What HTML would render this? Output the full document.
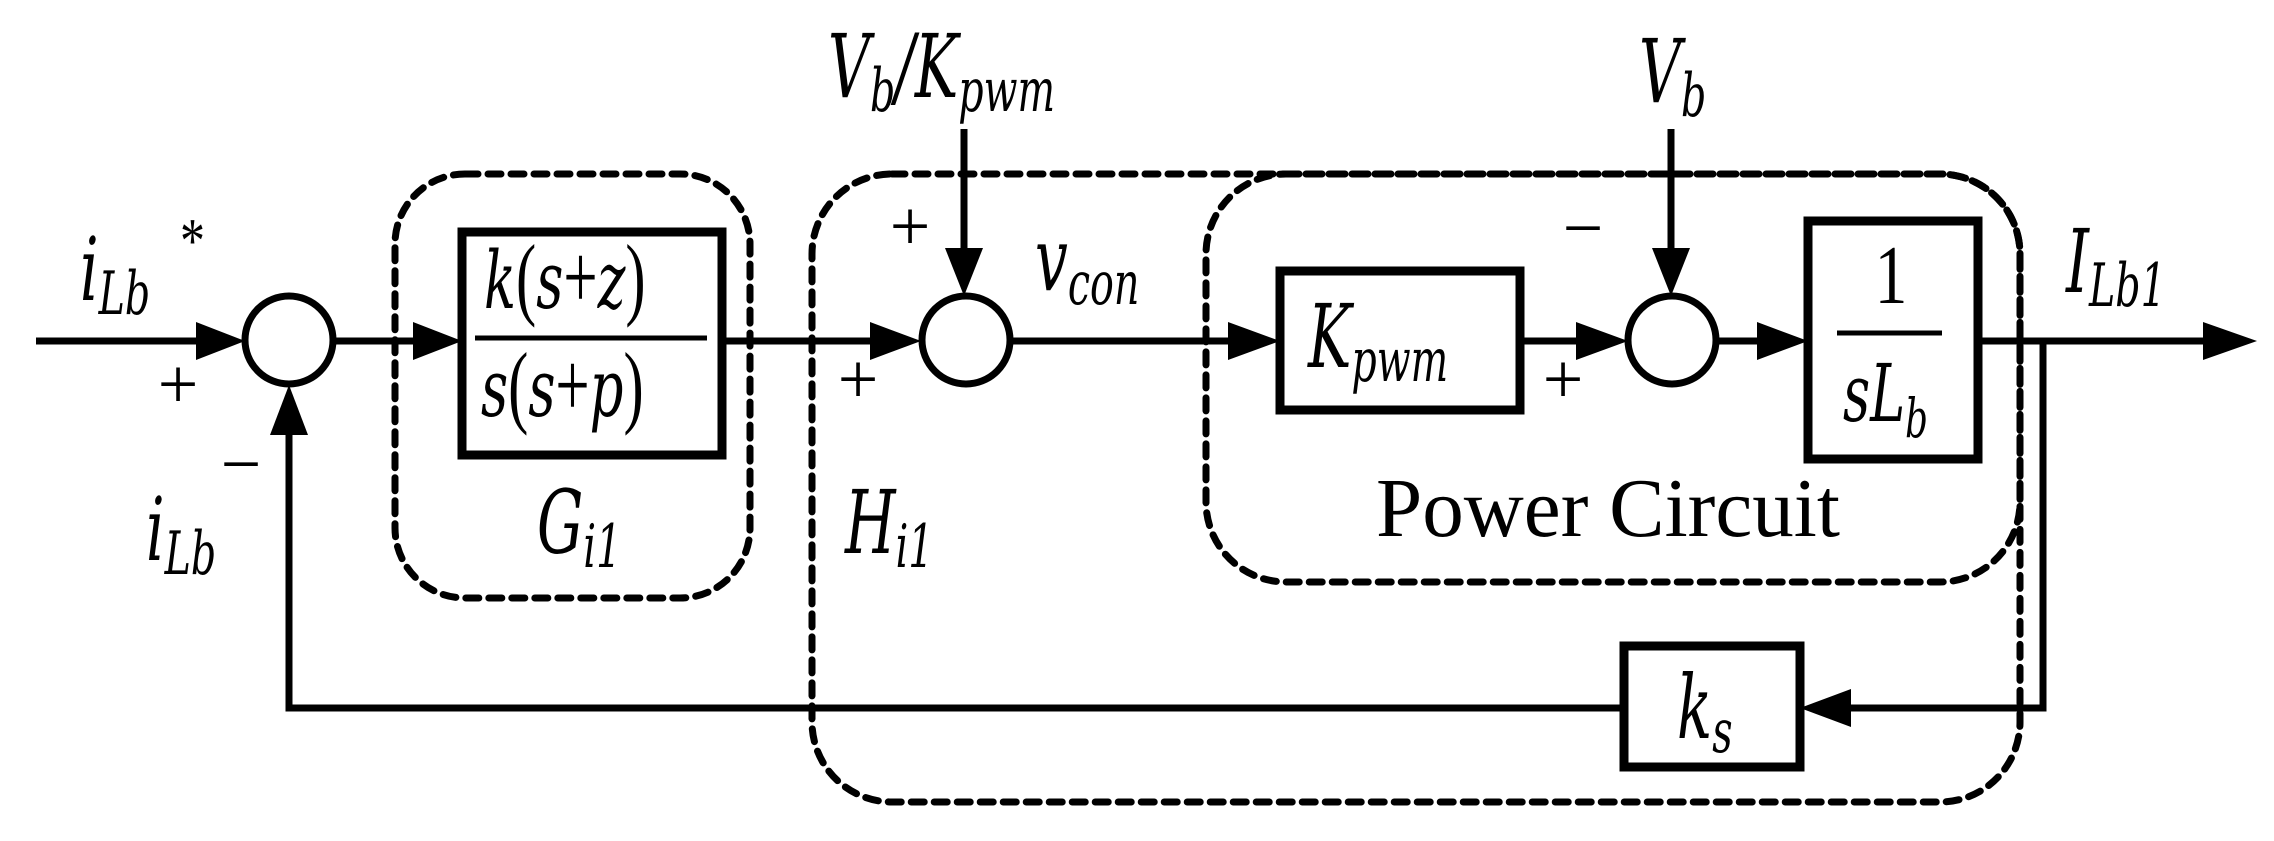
<!DOCTYPE html>
<html><head><meta charset="utf-8"><style>
html,body{margin:0;padding:0;background:#fff}
svg{display:block}
svg text{font-family:"Liberation Serif","Times New Roman",serif;fill:#000}
svg text .i, svg text.i{font-family:"DejaVu Serif","Liberation Serif",serif;font-style:italic}
</style></head><body>
<svg width="2274" height="841" viewBox="0 0 2274 841" xmlns="http://www.w3.org/2000/svg">
<g fill="none" stroke="#000" stroke-width="7" stroke-dasharray="13 10" stroke-linecap="round">
<rect x="395" y="174" width="355" height="424" rx="70" ry="70"/>
<rect x="812" y="174" width="1208" height="628" rx="80" ry="80"/>
<rect x="1206" y="174" width="814" height="408" rx="80" ry="80"/>
</g>
<g stroke="#000" stroke-width="7" fill="none">
<line x1="36" y1="341" x2="200" y2="341"/>
<circle cx="289" cy="340" r="44"/>
<line x1="334" y1="341" x2="420" y2="341"/>
<rect x="462" y="232" width="260" height="223" stroke-width="9"/>
<line x1="475" y1="338" x2="707" y2="338" stroke-width="5"/>
<line x1="722" y1="341" x2="875" y2="341"/>
<circle cx="966" cy="340" r="44"/>
<line x1="964" y1="129" x2="964" y2="255"/>
<line x1="1010" y1="341" x2="1235" y2="341"/>
<rect x="1280" y="271" width="240" height="139" stroke-width="9"/>
<line x1="1520" y1="341" x2="1580" y2="341"/>
<circle cx="1672" cy="340" r="44"/>
<line x1="1671" y1="129" x2="1671" y2="255"/>
<line x1="1717" y1="341" x2="1762" y2="341"/>
<rect x="1808" y="221" width="170" height="238" stroke-width="9"/>
<line x1="1837" y1="333" x2="1942" y2="333" stroke-width="5"/>
<line x1="1978" y1="341" x2="2210" y2="341"/>
<polyline points="2043,341 2043,708 1845,708"/>
<rect x="1624" y="646" width="176" height="121" stroke-width="9"/>
<polyline points="1624,708 289,708 289,430"/>
</g>
<g fill="#000">
<polygon points="196,322 245,341 196,360"/>
<polygon points="413,322 462,341 413,360"/>
<polygon points="870,322 921,341 870,360"/>
<polygon points="1228,322 1280,341 1228,360"/>
<polygon points="1576,322 1628,341 1576,360"/>
<polygon points="1757,322 1808,341 1757,360"/>
<polygon points="2203,322 2257,341 2203,360"/>
<polygon points="1851,689 1800,708 1851,727"/>
<polygon points="270,435 289,385 308,435"/>
<polygon points="945,248 964,296 983,248"/>
<polygon points="1652,248 1671,296 1690,248"/>
</g>
<g font-size="88">
<g transform="translate(80,300) scale(0.66,1)"><text class="i">i<tspan font-size="60" dy="14">Lb</tspan></text></g>
<g transform="translate(180,262) scale(0.78,1)"><text font-size="64">*</text></g>
<g transform="translate(146,560) scale(0.66,1)"><text class="i">i<tspan font-size="60" dy="14">Lb</tspan></text></g>
<g transform="translate(484,308) scale(0.66,1)"><text font-size="80"><tspan class="i">k</tspan><tspan font-family="Liberation Serif" font-size="92">(</tspan><tspan class="i">s</tspan><tspan font-family="Liberation Serif" font-size="92">+</tspan><tspan class="i">z</tspan><tspan font-family="Liberation Serif" font-size="92">)</tspan></text></g>
<g transform="translate(481,416) scale(0.66,1)"><text font-size="80"><tspan class="i">s</tspan><tspan font-family="Liberation Serif" font-size="92">(</tspan><tspan class="i">s</tspan><tspan font-family="Liberation Serif" font-size="92">+</tspan><tspan class="i">p</tspan><tspan font-family="Liberation Serif" font-size="92">)</tspan></text></g>
<g transform="translate(537,553) scale(0.66,1)"><text class="i">G<tspan font-size="60" dy="14">i1</tspan></text></g>
<g transform="translate(845,553) scale(0.66,1)"><text class="i">H<tspan font-size="60" dy="14">i1</tspan></text></g>
<g transform="translate(828,97) scale(0.66,1)"><text class="i">V<tspan font-size="60" dy="14">b</tspan><tspan dy="-14">/K</tspan><tspan font-size="60" dy="14">pwm</tspan></text></g>
<g transform="translate(1035,290) scale(0.66,1)"><text class="i">v<tspan font-size="60" dy="14">con</tspan></text></g>
<g transform="translate(1308,367) scale(0.66,1)"><text class="i">K<tspan font-size="60" dy="14">pwm</tspan></text></g>
<g transform="translate(1639,102) scale(0.66,1)"><text class="i">V<tspan font-size="60" dy="14">b</tspan></text></g>
<g transform="translate(1891,303) scale(0.78,1)"><text font-size="84" text-anchor="middle">1</text></g>
<g transform="translate(1843,421) scale(0.66,1)"><text font-size="80" class="i">s<tspan>L</tspan><tspan font-size="54" dy="16">b</tspan></text></g>
<g transform="translate(1677,738) scale(0.66,1)"><text class="i">k<tspan font-size="60" dy="14">s</tspan></text></g>
<g transform="translate(2066,292) scale(0.66,1)"><text class="i">I<tspan font-size="60" dy="14">Lb1</tspan></text></g>
<text x="1376" y="536" font-size="84" textLength="464" lengthAdjust="spacingAndGlyphs">Power Circuit</text>
<g font-size="72" text-anchor="middle">
<text x="178" y="408">+</text>
<text x="910" y="250">+</text>
<text x="858" y="403">+</text>
<text x="1563" y="403">+</text>
<text x="241" y="488">−</text>
<text x="1583" y="252">−</text>
</g>
</g>
</svg>
</body></html>
